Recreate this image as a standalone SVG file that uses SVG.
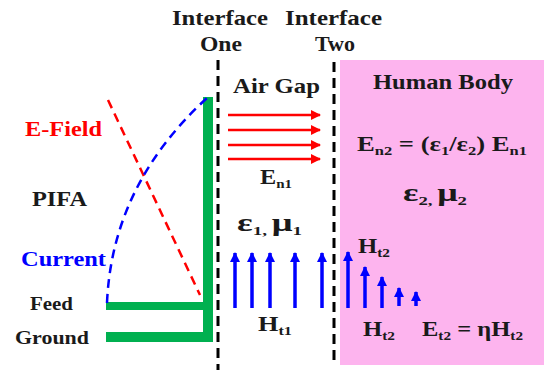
<svg xmlns="http://www.w3.org/2000/svg" width="546" height="370" viewBox="0 0 546 370">
<defs>
<style>
text{font-family:"Liberation Serif","Times New Roman",serif;font-weight:bold;fill:#1a1a1a}
.t{font-size:21px}
.s{font-size:13px}
.red{fill:#ff0000}
.blue{fill:#0000ff}
.iface{stroke:#000;stroke-width:3;stroke-dasharray:10,6;fill:none}
.ea{stroke:#ff0000;stroke-width:2.5;fill:none}
.ha{stroke:#0000ff;stroke-width:3.5;fill:none}
.green{fill:#00b050}
</style>
<marker id="rh" viewBox="0 0 10 10" refX="9" refY="5" markerWidth="4" markerHeight="4" orient="auto" markerUnits="strokeWidth"><path d="M0,0 L10,5 L0,10 z" fill="#ff0000"/></marker>
<marker id="bh" viewBox="0 0 10 10" refX="9" refY="5" markerWidth="3" markerHeight="3" orient="auto" markerUnits="strokeWidth"><path d="M0,0 L10,5 L0,10 z" fill="#0000ff"/></marker>
</defs>
<rect width="546" height="370" fill="#fff"/>
<g id="human-body-region"><rect x="340" y="60" width="204" height="305" fill="#fdb4ee"/></g>
<g id="pifa">
<rect class="green" x="203" y="97" width="10" height="245"/>
<rect class="green" x="106" y="302" width="107" height="8"/>
<rect class="green" x="106" y="332" width="107" height="10"/>
</g>
<g id="connectors">
<line class="iface" x1="218" y1="60" x2="218" y2="370"/>
<line class="iface" x1="334" y1="62" x2="334" y2="365"/>
<line x1="108" y1="100" x2="200" y2="295" stroke="#ff0000" stroke-width="2.5" stroke-dasharray="9,6"/>
<path d="M107,303 Q112,185 207,98" fill="none" stroke="#0000ff" stroke-width="2.5" stroke-dasharray="9,6"/>
<line class="ea" x1="228" y1="115" x2="320" y2="115" marker-end="url(#rh)"/>
<line class="ea" x1="228" y1="130" x2="320" y2="130" marker-end="url(#rh)"/>
<line class="ea" x1="228" y1="145" x2="320" y2="145" marker-end="url(#rh)"/>
<line class="ea" x1="228" y1="159" x2="320" y2="159" marker-end="url(#rh)"/>
<line class="ha" x1="235" y1="308" x2="235" y2="253" marker-end="url(#bh)"/>
<line class="ha" x1="252" y1="308" x2="252" y2="253" marker-end="url(#bh)"/>
<line class="ha" x1="270" y1="308" x2="270" y2="253" marker-end="url(#bh)"/>
<line class="ha" x1="295" y1="308" x2="295" y2="253" marker-end="url(#bh)"/>
<line class="ha" x1="322" y1="308" x2="322" y2="253" marker-end="url(#bh)"/>
<line class="ha" x1="348" y1="308" x2="348" y2="252" marker-end="url(#bh)"/>
<line class="ha" x1="365" y1="308" x2="365" y2="267" marker-end="url(#bh)"/>
<line class="ha" x1="382" y1="308" x2="382" y2="277" marker-end="url(#bh)"/>
<line class="ha" x1="399" y1="306" x2="399" y2="288" marker-end="url(#bh)"/>
<line class="ha" x1="416" y1="306" x2="416" y2="292" marker-end="url(#bh)"/>
</g>
<g id="labels">
<text class="t" x="172" y="25" textLength="96" lengthAdjust="spacingAndGlyphs">Interface</text>
<text class="t" x="200" y="51" textLength="42" lengthAdjust="spacingAndGlyphs">One</text>
<text class="t" x="285" y="25" textLength="97" lengthAdjust="spacingAndGlyphs">Interface</text>
<text class="t" x="315" y="51" textLength="40" lengthAdjust="spacingAndGlyphs">Two</text>
<text class="t" x="233" y="93" textLength="87" lengthAdjust="spacingAndGlyphs">Air Gap</text>
<text class="t" x="373" y="89" textLength="140" lengthAdjust="spacingAndGlyphs">Human Body</text>
<text class="t" x="357" y="151" textLength="170" lengthAdjust="spacingAndGlyphs">E<tspan class="s" dy="4">n2</tspan><tspan dy="-4"> = (ε</tspan><tspan class="s" dy="4">1</tspan><tspan dy="-4">/ε</tspan><tspan class="s" dy="4">2</tspan><tspan dy="-4">) E</tspan><tspan class="s" dy="4">n1</tspan></text>
<text class="t" x="403" y="201" textLength="64" lengthAdjust="spacingAndGlyphs" style="font-size:25px">ε<tspan class="s" dy="4">2, </tspan><tspan dy="-4">μ</tspan><tspan class="s" dy="4">2</tspan></text>
<text class="t" x="260" y="184" textLength="32" lengthAdjust="spacingAndGlyphs">E<tspan class="s" dy="4">n1</tspan></text>
<text class="t" x="237" y="231" textLength="65" lengthAdjust="spacingAndGlyphs" style="font-size:25px">ε<tspan class="s" dy="4">1, </tspan><tspan dy="-4">μ</tspan><tspan class="s" dy="4">1</tspan></text>
<text class="t" x="358" y="253" textLength="32" lengthAdjust="spacingAndGlyphs">H<tspan class="s" dy="4">t2</tspan></text>
<text class="t" x="258" y="331" textLength="34" lengthAdjust="spacingAndGlyphs">H<tspan class="s" dy="4">t1</tspan></text>
<text class="t" x="363" y="336" textLength="32" lengthAdjust="spacingAndGlyphs">H<tspan class="s" dy="4">t2</tspan></text>
<text class="t" x="422" y="336" textLength="101" lengthAdjust="spacingAndGlyphs">E<tspan class="s" dy="4">t2</tspan><tspan dy="-4"> = ηH</tspan><tspan class="s" dy="4">t2</tspan></text>
<text class="t red" x="25" y="136" textLength="77" lengthAdjust="spacingAndGlyphs">E-Field</text>
<text class="t" x="32" y="206" textLength="55" lengthAdjust="spacingAndGlyphs">PIFA</text>
<text class="t blue" x="21" y="266" textLength="85" lengthAdjust="spacingAndGlyphs">Current</text>
<text class="t" x="30" y="310" textLength="43" lengthAdjust="spacingAndGlyphs" style="font-size:19px">Feed</text>
<text class="t" x="15" y="344" textLength="74" lengthAdjust="spacingAndGlyphs" style="font-size:19px">Ground</text>
</g>
</svg>
